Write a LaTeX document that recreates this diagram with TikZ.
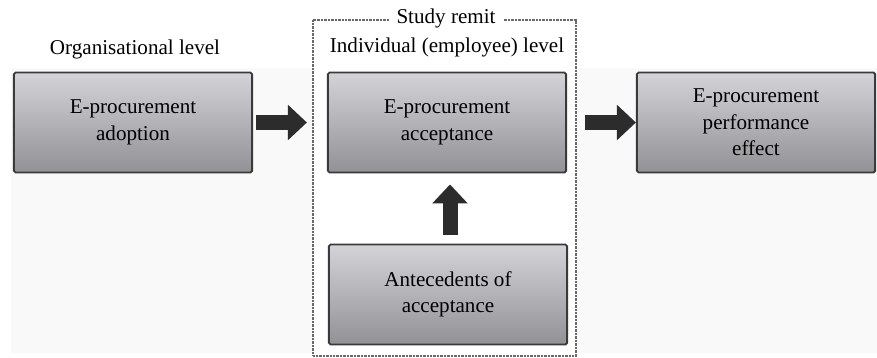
\documentclass[tikz,border=0pt]{standalone}
\usepackage{fontspec}
\setmainfont{Liberation Serif}
\newfontfamily\remitfont{Liberation Serif}
\usetikzlibrary{arrows.meta}
\definecolor{boxtop}{RGB}{212, 212, 216}
\definecolor{boxbottom}{RGB}{146, 146, 150}
\definecolor{boxline}{RGB}{58, 58, 58}
\definecolor{arrowgray}{RGB}{44, 44, 44}
\definecolor{framegray}{RGB}{105, 105, 105}
\definecolor{paper}{RGB}{249, 249, 249}

\begin{document}
\begin{tikzpicture}[x=0.03cm, y=-0.03cm,
    stagebox/.style={draw=boxline, line width=1.6pt, rounded corners=1.5pt,
                     top color=boxtop, bottom color=boxbottom,
                     minimum width=7.15cm, minimum height=3.0cm, align=center,
                     font=\remitfont\fontsize{18}{22.5}\selectfont},
    levellabel/.style={font=\remitfont\fontsize{18}{22}\selectfont},
    blockarrow/.style={arrowgray, line width=0.45cm,
                       -{Triangle[length=0.57cm, width=1.03cm]}}]
            % Frame to ensure alignment:
            \useasboundingbox (0, 0) rectangle (877, 357);
            \fill[paper]                                                      ( 11,  68) rectangle (877, 353);
            \fill[white]                                                      (313,  20) rectangle (576, 356);
            % Study remit
            \draw[framegray, line width=1.1pt, dash pattern=on 0.7pt off 0.5pt] (313,  20) rectangle (576, 356);
            \node[levellabel, fill=white, inner xsep=0.22cm, inner ysep=2pt] (remit) at (446,  18) {Study remit};
            % Levels
            \node[levellabel] (orglevel)                           at (135,  49) {Organisational level};
            \node[levellabel] (indlevel)                           at (447,  47) {Individual (employee) level};
            % Stages
            \node[stagebox] (adoption)                             at (133, 122.5) {E-procurement\\adoption};
            \node[stagebox] (acceptance)                           at (447, 122.5) {E-procurement\\acceptance};
            \node[stagebox] (performance)                          at (756, 122.5) {E-procurement\\performance\\effect};
            \node[stagebox] (antecedents)                          at (448, 294.5) {Antecedents of\\acceptance};
            % Block arrows
            \draw[blockarrow, shorten <=0.09cm, shorten >=0.6cm]   (adoption.east)    -- (acceptance.west);
            \draw[blockarrow, shorten <=0.54cm]                    (acceptance.east)  -- (performance.west);
            \draw[blockarrow, shorten <=0.27cm, shorten >=0.33cm]  ([xshift=0.06cm]antecedents.north) -- ([xshift=0.09cm]acceptance.south);
        \end{tikzpicture}
\end{document}
